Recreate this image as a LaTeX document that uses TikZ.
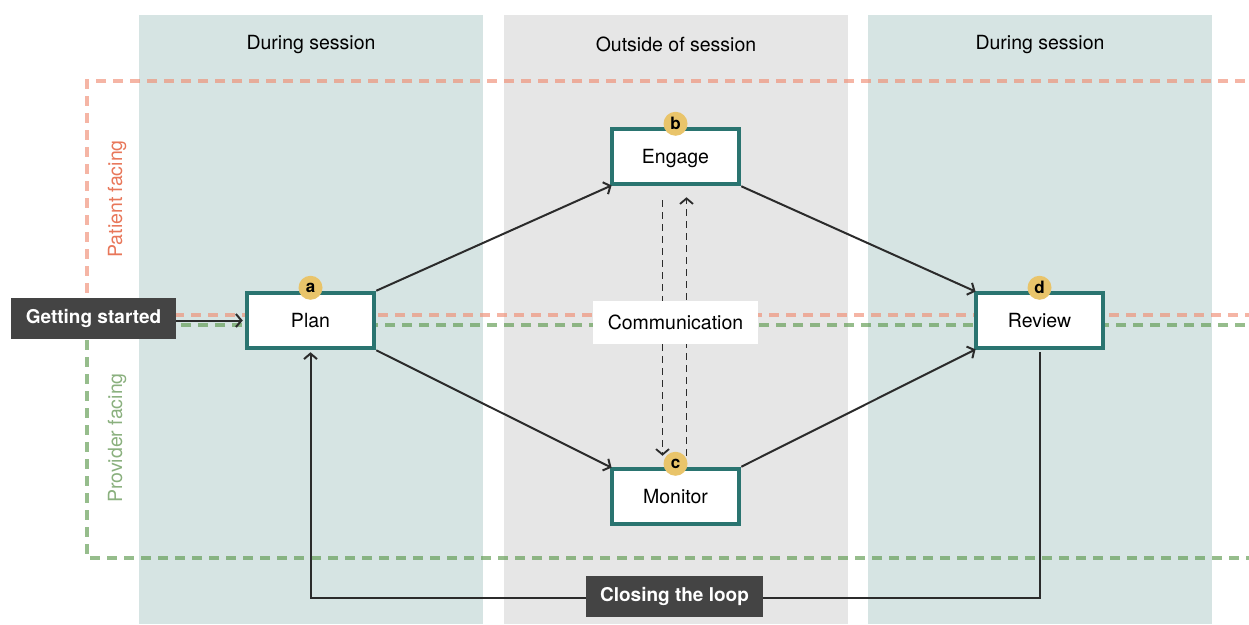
\documentclass[tikz,border=0pt]{standalone}
\usepackage{fontspec}
\setmainfont{TeX Gyre Heros}
\usetikzlibrary{arrows.meta,calc}

\definecolor{colteal}{HTML}{D6E4E3}
\definecolor{colgrey}{HTML}{E6E6E6}
\definecolor{boxline}{HTML}{2A7470}
\definecolor{badge}{HTML}{E9C46A}
\definecolor{darkbox}{HTML}{444444}
\definecolor{pinkline}{HTML}{F08E74}
\definecolor{greenline}{HTML}{5E9A4E}
\definecolor{pinktext}{HTML}{E8775A}
\definecolor{greentext}{HTML}{8AB07E}
\definecolor{arrowc}{HTML}{2B2B2B}

\tikzset{
  txt/.style={font=\fontsize{19.5}{23}\selectfont},
  stagebox/.style={draw=boxline, line width=4.5pt, fill=white, minimum width=127pt,
    minimum height=55pt, text depth=0pt, txt},
  badgenode/.style={circle, fill=badge, minimum size=24pt, inner sep=0pt,
    font=\fontsize{17}{19}\selectfont\bfseries},
  tagbox/.style={fill=darkbox, text=white, inner sep=0pt, font=\fontsize{19}{23}\selectfont\bfseries},
  flow/.style={draw=arrowc, line width=2pt, -{Straight Barb[length=5.5pt,width=13pt,line width=2pt]}},
  talk/.style={draw=arrowc, line width=1.8pt, dash pattern=on 7pt off 5pt,
    -{Straight Barb[length=5.5pt,width=13pt,line width=1.8pt]}},
  zone/.style={line width=4.5pt, dash pattern=on 10pt off 7pt, opacity=0.65},
}

\begin{document}
\begin{tikzpicture}[x=1pt,y=-1pt]
\useasboundingbox (0,0) rectangle (1249,624);
\clip (0,0) rectangle (1249,624);

% session columns
\fill[colteal] (139,15) rectangle (483,624);
\fill[colgrey] (504,15) rectangle (848,624);
\fill[colteal] (868,15) rectangle (1212,624);

\node[txt] (h1) at (311,44.5) {During session};
\node[txt] (h2) at (676,44.5) {Outside of session};
\node[txt] (h3) at (1040,44.5) {During session};

% patient / provider zones
\draw[zone, pinkline] (1262,81) -- (87,81) -- (87,315) -- (1262,315);
\draw[zone, greenline] (1262,325) -- (87,325) -- (87,558) -- (1262,558);
\node[txt, text=pinktext, rotate=90] (pf) at (117,199) {Patient facing};
\node[txt, text=greentext, rotate=90] (prf) at (117,438) {Provider facing};

% stages
\node[stagebox] (plan) at (310.5,320.5) {Plan};
\node[stagebox] (engage) at (675.5,156.5) {Engage};
\node[stagebox] (monitor) at (675.5,496.5) {Monitor};
\node[stagebox] (review) at (1039.5,320.5) {Review};

\node[badgenode] (ba) at ([yshift=3pt]plan.north) {a};
\node[badgenode] (bb) at ([yshift=3pt]engage.north) {b};
\node[badgenode] (bc) at ([yshift=3pt]monitor.north) {c};
\node[badgenode] (bd) at ([yshift=3pt]review.north) {d};

% entry
\node[tagbox, minimum width=165pt, minimum height=41pt] (start) at (93.5,318.5) {Getting started};
\draw[flow] (start.east |- plan.west) -- ([xshift=-2pt]plan.west);

% loop back from review to plan, passing behind its label
\coordinate (loopr) at (1039.5,597.5);
\coordinate (loopl) at (310.5,597.5);
\draw[flow, shorten >=2pt] ([yshift=-2pt]review.south) -- (loopr) -- (loopl) -- (plan.south);
\node[tagbox, minimum width=177pt, minimum height=41pt] (closing) at (674.5,596.5) {Closing the loop};

% transitions
\draw[flow, shorten >=-2pt] (plan.north east) -- (engage.south west);
\draw[flow, shorten >=-2pt] (plan.south east) -- (monitor.north west);
\draw[flow, shorten >=-2pt] (engage.south east) -- (review.north west);
\draw[flow, shorten >=-2pt] (monitor.north east) -- (review.south west);

% communication between engage and monitor
\draw[talk, shorten <=14pt, shorten >=11pt] ([xshift=-13pt]engage.south) -- ([xshift=-13pt]monitor.north);
\draw[talk, shorten <=11pt, shorten >=11pt] ([xshift=11pt]monitor.north) -- ([xshift=11pt]engage.south);
\node[fill=white, txt, minimum width=165pt, minimum height=43pt, inner sep=0pt] (comm) at (675.5,322.5) {Communication};
\end{tikzpicture}
\end{document}
